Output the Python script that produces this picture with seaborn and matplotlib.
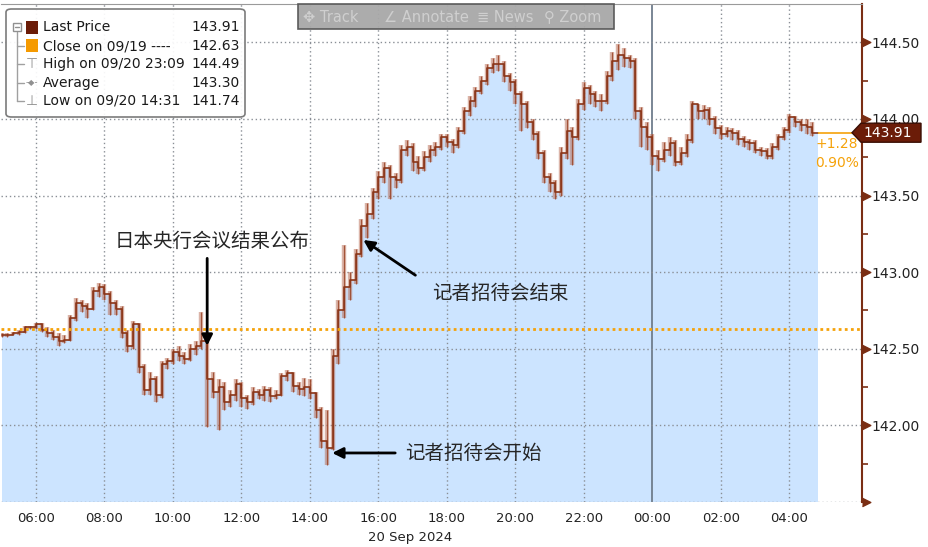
import numpy as np
import pandas as pd
import matplotlib
matplotlib.use('Agg')
import matplotlib.pyplot as plt
import seaborn as sns
from matplotlib.patches import Polygon, FancyBboxPatch, Rectangle
from matplotlib.transforms import blended_transform_factory

# USDJPY 10-minute bars, first bar 05:00 on 20 Sep 2024 (hours since midnight)
bar_start = 5.0
bar_minutes = 10
closes = [
    142.59, 142.59, 142.60, 142.61, 142.64, 142.64, 142.66, 142.62, 142.60, 142.58,
    142.55, 142.56, 142.70, 142.80, 142.78, 142.76, 142.88, 142.90, 142.86, 142.80,
    142.76, 142.60, 142.52, 142.66, 142.38, 142.23, 142.30, 142.20, 142.40, 142.42,
    142.48, 142.45, 142.43, 142.50, 142.52, 142.55, 142.30, 142.22, 142.25, 142.15,
    142.20, 142.27, 142.18, 142.15, 142.22, 142.20, 142.23, 142.19, 142.20, 142.32,
    142.34, 142.26, 142.24, 142.25, 142.21, 142.10, 141.90, 141.85, 142.45, 142.75,
    142.90, 142.95, 143.12, 143.30, 143.38, 143.52, 143.62, 143.68, 143.62, 143.60,
    143.80, 143.82, 143.72, 143.68, 143.75, 143.80, 143.82, 143.88, 143.85, 143.83,
    143.92, 144.05, 144.12, 144.18, 144.25, 144.33, 144.36, 144.36, 144.28, 144.24,
    144.16, 144.10, 143.98, 143.90, 143.78, 143.62, 143.58, 143.52, 143.78, 143.92,
    143.88, 144.10, 144.20, 144.16, 144.12, 144.12, 144.28, 144.38, 144.42, 144.40,
    144.38, 144.05, 143.95, 143.88, 143.76, 143.74, 143.80, 143.84, 143.72, 143.78,
    143.86, 144.10, 144.05, 144.06, 144.00, 143.94, 143.90, 143.92, 143.91, 143.87,
    143.85, 143.84, 143.80, 143.79, 143.76, 143.82, 143.88, 143.93, 144.01, 143.98,
    143.96, 143.95, 143.91,
]
highs = [
    142.60, 142.60, 142.61, 142.62, 142.65, 142.65, 142.67, 142.67, 142.64, 142.62,
    142.60, 142.59, 142.72, 142.83, 142.82, 142.80, 142.90, 142.93, 142.92, 142.88,
    142.82, 142.78, 142.62, 142.68, 142.67, 142.40, 142.35, 142.32, 142.42, 142.44,
    142.50, 142.52, 142.48, 142.53, 142.55, 142.74, 142.57, 142.35, 142.30, 142.28,
    142.23, 142.30, 142.28, 142.20, 142.25, 142.24, 142.26, 142.25, 142.23, 142.34,
    142.36, 142.35, 142.28, 142.31, 142.30, 142.22, 142.12, 142.10, 142.50, 142.82,
    143.18, 143.00, 143.15, 143.35, 143.45, 143.55, 143.66, 143.72, 143.70, 143.65,
    143.83, 143.86, 143.84, 143.76, 143.79, 143.83, 143.85, 143.90, 143.90, 143.87,
    143.95, 144.08, 144.15, 144.21, 144.28, 144.36, 144.40, 144.42, 144.38, 144.30,
    144.26, 144.18, 144.12, 144.00, 143.92, 143.80, 143.65, 143.60, 143.82, 144.00,
    143.95, 144.13, 144.24, 144.22, 144.18, 144.16, 144.31, 144.44, 144.49, 144.46,
    144.42, 144.40, 144.08, 143.98, 143.90, 143.80, 143.85, 143.88, 143.86, 143.82,
    143.90, 144.12, 144.10, 144.09, 144.08, 144.02, 143.96, 143.95, 143.94, 143.93,
    143.89, 143.87, 143.86, 143.82, 143.81, 143.84, 143.90, 143.95, 144.03, 144.02,
    144.00, 144.00, 143.98,
]
lows = [
    142.58, 142.58, 142.59, 142.59, 142.60, 142.63, 142.63, 142.61, 142.58, 142.56,
    142.52, 142.54, 142.55, 142.68, 142.74, 142.70, 142.75, 142.84, 142.82, 142.72,
    142.72, 142.57, 142.48, 142.50, 142.34, 142.20, 142.20, 142.15, 142.18, 142.37,
    142.40, 142.42, 142.40, 142.42, 142.46, 142.50, 141.99, 142.18, 141.97, 142.10,
    142.12, 142.16, 142.12, 142.11, 142.13, 142.17, 142.16, 142.15, 142.17, 142.19,
    142.29, 142.22, 142.20, 142.19, 142.17, 142.05, 141.85, 141.74, 141.84, 142.40,
    142.70, 142.82, 142.92, 143.10, 143.22, 143.35, 143.48, 143.58, 143.48, 143.55,
    143.58, 143.76, 143.66, 143.64, 143.66, 143.72, 143.76, 143.80, 143.82, 143.78,
    143.81, 143.90, 144.02, 144.08, 144.16, 144.22, 144.30, 144.31, 144.24, 144.18,
    144.10, 143.92, 143.94, 143.86, 143.74, 143.58, 143.52, 143.48, 143.50, 143.74,
    143.70, 143.86, 144.06, 144.10, 144.08, 144.05, 144.10, 144.25, 144.32, 144.34,
    144.33, 144.00, 143.82, 143.80, 143.70, 143.66, 143.72, 143.76, 143.69, 143.70,
    143.75, 143.84, 144.00, 144.00, 143.96, 143.90, 143.87, 143.88, 143.86, 143.83,
    143.82, 143.80, 143.78, 143.76, 143.74, 143.74, 143.80, 143.86, 143.91, 143.95,
    143.92, 143.90, 143.89,
]

prev_close = 142.63
last_price = 143.91
change_txt = ['+1.28', '0.90%']

legend_labels = ['Last Price', 'Close on 09/19 ----', 'High on 09/20 23:09', 'Average', 'Low on 09/20 14:31']
legend_values = ['143.91', '142.63', '144.49', '143.30', '141.74']

x_ticks = [6, 8, 10, 12, 14, 16, 18, 20, 22, 24, 26, 28]
x_labels = ['06:00', '08:00', '10:00', '12:00', '14:00', '16:00', '18:00',
            '20:00', '22:00', '00:00', '02:00', '04:00']
y_ticks = [141.5, 142.0, 142.5, 143.0, 143.5, 144.0, 144.5]
y_labels = ['', '142.00', '142.50', '143.00', '143.50', '144.00', '144.50']
y_minor = [141.75, 142.25, 142.75, 143.25, 143.75, 144.25]

W, H = 929, 547
BROWN = '#8a3518'
ORANGE = '#f5a20a'
BLUE = '#cce4ff'

sns.set_style('white')
plt.rcParams['font.family'] = ['DejaVu Sans']
cjk = ['Noto Sans CJK SC', 'DejaVu Sans']

n = len(closes)
t = bar_start + np.arange(n) * bar_minutes / 60
t_edges = np.append(t, t[-1] + bar_minutes / 60)
df = pd.DataFrame({'time': t_edges, 'price': closes + [closes[-1]]})

fig = plt.figure(figsize=(W / 100, H / 100), dpi=100)
ax = fig.add_axes([1 / W, 1 - 502 / H, 861 / W, 498 / H])

ax.set_xlim(4.98, 30.12)
ax.set_ylim(141.5, 144.75)

# grid
for xt in x_ticks:
    if xt == 24:
        ax.axvline(xt, color='#6f7d8c', lw=1.3, zorder=1)
    else:
        ax.axvline(xt, color='#8a8f96', lw=1, ls=(0, (1, 2)), zorder=1)
for yt in y_ticks:
    ax.axhline(yt, color='#8a8f96', lw=1, ls=(0, (1, 2)), zorder=1)

# area
ax.fill_between(df['time'], df['price'], 141.5, step='post', color=BLUE, lw=0, zorder=0)

# high-low bars
ax.vlines(t, lows, highs, color='#b86a52', lw=3.2, alpha=0.5, zorder=2)
ax.vlines(t, lows, highs, color='#9a4326', lw=0.9, alpha=0.85, zorder=3)
sns.lineplot(data=df, x='time', y='price', drawstyle='steps-post', color=BROWN, lw=1.2, ax=ax, zorder=4)

# previous close
ax.axhline(prev_close, color=ORANGE, lw=2, ls=(0, (1, 1.2)), zorder=5)
ax.hlines(last_price, t_edges[-1], 30.12, color=ORANGE, lw=1.2, zorder=5)
ax.text(29.38, 143.835, change_txt[0], color=ORANGE, fontsize=10, ha='center', va='center')
ax.text(29.38, 143.715, change_txt[1], color=ORANGE, fontsize=10, ha='center', va='center')

# axes styling
for s in ['left', 'bottom']:
    ax.spines[s].set_visible(False)
ax.spines['top'].set_color('#9a9a9a')
ax.spines['right'].set_color('#7a2e14')
ax.spines['right'].set_linewidth(1.5)
ax.set_xlabel('')
ax.set_ylabel('')
ax.set_xticks(x_ticks)
ax.set_xticklabels(x_labels, fontsize=9.5, color='#222222')
ax.tick_params(axis='x', length=0, pad=7)
ax.yaxis.tick_right()
ax.set_yticks(y_ticks)
ax.set_yticklabels(y_labels, fontsize=10, color='#222222')
ax.set_yticks(y_minor, minor=True)
ax.tick_params(axis='y', which='major', length=0, pad=7)
ax.tick_params(axis='y', which='minor', length=4, width=1.2, color='#7a2e14', direction='out')
tri = [(0, -1), (2, 0), (0, 1)]
ax.plot([1.0] * len(y_ticks), y_ticks, transform=ax.get_yaxis_transform(), ls='none',
        marker=tri, ms=12, color='#7a2e14', clip_on=False, zorder=6)
fig.text(410 / W, 1 - 537 / H, '20 Sep 2024', fontsize=9.5, color='#222222', ha='center', va='center')

# last price tag
tr = blended_transform_factory(fig.transFigure, ax.transData)
hh = 0.062
tag = Polygon([(852 / W, last_price), (861 / W, last_price + hh), (921 / W, last_price + hh),
               (921 / W, last_price - hh), (861 / W, last_price - hh)], closed=True,
              transform=tr, facecolor='#6b1c08', edgecolor='#3a0e04', lw=1, clip_on=False, zorder=7)
ax.add_artist(tag)
ax.text(888 / W, last_price, '143.91', transform=tr, color='white', fontsize=10,
        ha='center', va='center', zorder=8)

# annotations
arrow = dict(arrowstyle='-|>', color='black', lw=2, mutation_scale=16, shrinkA=0, shrinkB=0)
ax.annotate('', xy=(11.0, 142.52), xytext=(11.0, 143.09), arrowprops=arrow, zorder=9)
ax.text(11.15, 143.20, '日本央行会议结果公布', family=cjk, fontsize=14, ha='center', va='center', zorder=9)
ax.annotate('', xy=(15.56, 143.21), xytext=(17.08, 142.98), arrowprops=arrow, zorder=9)
ax.text(19.57, 142.86, '记者招待会结束', family=cjk, fontsize=14, ha='center', va='center', zorder=9)
ax.annotate('', xy=(14.65, 141.82), xytext=(16.49, 141.82), arrowprops=arrow, zorder=9)
ax.text(16.79, 141.82, '记者招待会开始', family=cjk, fontsize=14, ha='left', va='center', zorder=9)


def fx(x):
    return x / W


def fy(y):
    return 1 - y / H


# legend box
box = FancyBboxPatch((fx(6), fy(117)), fx(239), 108 / H, boxstyle='round,pad=0,rounding_size=0.006',
                     transform=fig.transFigure, facecolor='white', edgecolor='#707070', lw=1.2,
                     alpha=0.92, zorder=10)
fig.add_artist(box)
rows = [27, 46, 64, 83, 101]
fig.add_artist(plt.Line2D([fx(17), fx(17)], [fy(32), fy(101)], color='#a0a0a0', lw=1, zorder=11))
for r in rows[1:]:
    fig.add_artist(plt.Line2D([fx(17), fx(24)], [fy(r), fy(r)], color='#a0a0a0', lw=1, zorder=11))
fig.add_artist(Rectangle((fx(13), fy(31)), 8 / W, 8 / H, transform=fig.transFigure,
                         facecolor='white', edgecolor='#909090', lw=1, zorder=12))
fig.add_artist(plt.Line2D([fx(15), fx(19)], [fy(27), fy(27)], color='#909090', lw=1, zorder=13))
fig.add_artist(Rectangle((fx(26), fy(34)), 12 / W, 13 / H, transform=fig.transFigure,
                         facecolor='#6b1c08', edgecolor='none', zorder=12))
fig.add_artist(Rectangle((fx(26), fy(52)), 12 / W, 13 / H, transform=fig.transFigure,
                         facecolor='#f59a00', edgecolor='none', zorder=12))
fig.text(fx(32), fy(64), '⊤', fontsize=10, color='#909090', ha='center', va='center', zorder=12)
fig.text(fx(32), fy(83), '-◆-', fontsize=6, color='#909090', ha='center', va='center', zorder=12)
fig.text(fx(32), fy(101), '⊥', fontsize=10, color='#909090', ha='center', va='center', zorder=12)
for r, lab, val in zip(rows, legend_labels, legend_values):
    fig.text(fx(43), fy(r), lab, fontsize=10, color='#1a1a1a', ha='left', va='center', zorder=12)
    fig.text(fx(240), fy(r), val, fontsize=10, color='#1a1a1a', ha='right', va='center', zorder=12)

# toolbar
bar = Rectangle((fx(298), fy(29)), 316 / W, 25 / H, transform=fig.transFigure,
                facecolor='#a8a8a8', edgecolor='#555555', lw=1.2, alpha=0.95, zorder=10)
fig.add_artist(bar)
for lab, xx in [('✥ Track', 303), ('∠ Annotate', 384), ('≣ News', 477), ('⚲ Zoom', 544)]:
    fig.text(fx(xx), fy(17), lab, fontsize=10.5, color='#cfcfcf', ha='left', va='center', zorder=11)

fig.savefig('out.png', dpi=100)
